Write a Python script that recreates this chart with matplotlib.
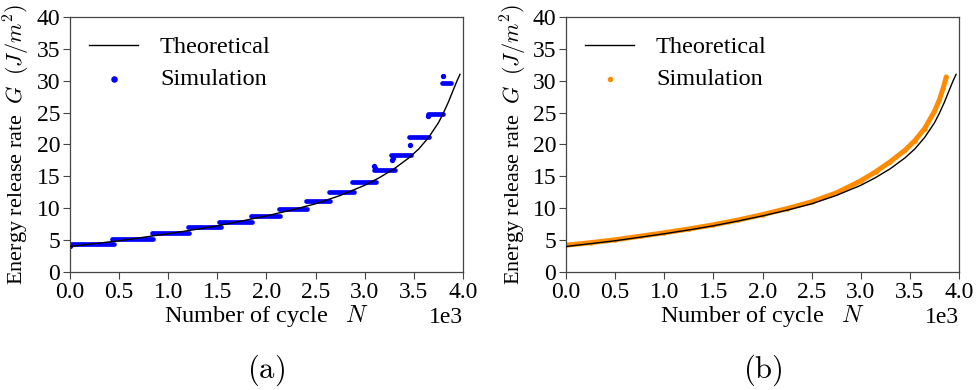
#!/usr/bin/env python3
# -*- coding: UTF-8 -*-

"""
能量释放率 G 随循环次数 N 的变化 (理论 vs 模拟)
"""

import matplotlib
matplotlib.use('agg')
from matplotlib import pyplot as plt

plt.rcParams['font.family'] = ['Liberation Serif', 'DejaVu Serif']
plt.rcParams['mathtext.fontset'] = 'cm'

# 理论曲线 (两个子图共用)
theory_n = [0, 250, 500, 750, 1000, 1250, 1500, 1750, 2000, 2250, 2500, 2750,
            3000, 3150, 3300, 3450, 3550, 3650, 3750, 3800, 3850, 3900,
            3940, 3970]
theory_g = [4.0, 4.45, 4.9, 5.45, 6.0, 6.6, 7.25, 8.0, 8.8, 9.7, 10.7, 12.0,
            13.6, 14.8, 16.2, 17.9, 19.3, 21.1, 23.4, 24.9, 26.6, 28.5,
            30.0, 31.0]

# (a) 模拟结果: 阶梯平台 (起点, 终点, 数值)
step_start = [0, 430, 830, 1200, 1520, 1840, 2130, 2400, 2640, 2870,
              3090, 3270, 3450, 3640, 3790]
step_end = [450, 850, 1210, 1540, 1850, 2140, 2410, 2650, 2890, 3110,
            3310, 3470, 3650, 3800, 3880]
step_level = [4.4, 5.2, 6.15, 7.0, 7.9, 8.85, 9.95, 11.2, 12.6, 14.15,
              16.0, 18.3, 21.2, 24.8, 29.7]
# 平台跳变处的零散点
jump_n = [0, 3095, 3100, 3280, 3285, 3460, 3640, 3800]
jump_g = [4.1, 16.6, 16.3, 17.5, 17.9, 19.9, 24.5, 30.7]

# (b) 模拟结果: 连续曲线
sim_n = [0, 250, 500, 750, 1000, 1250, 1500, 1750, 2000, 2250, 2500, 2750,
         3000, 3150, 3300, 3450, 3550, 3650, 3750, 3800, 3840, 3870]
sim_g = [4.2, 4.6, 5.05, 5.6, 6.15, 6.75, 7.4, 8.15, 9.0, 9.95, 11.0, 12.4,
         14.3, 15.7, 17.3, 19.1, 20.6, 22.5, 25.2, 27.0, 28.9, 30.6]

_fig = plt.figure(figsize=(9.8, 3.9), dpi=100)
_ax_a = _fig.add_axes([0.0714, 0.3026, 0.401, 0.6538])
_ax_b = _fig.add_axes([0.5776, 0.3026, 0.401, 0.6538])

# 子图 (a)
_ax_a.plot(theory_n, theory_g, color='black', lw=1.0, zorder=3, label='Theoretical')
_ax_a.hlines(step_level, step_start, step_end, colors='blue', lw=3.4,
             capstyle='round', zorder=2)
_ax_a.scatter(jump_n, jump_g, s=8, color='blue', zorder=2, label='Simulation')

# 子图 (b)
_ax_b.plot(sim_n, sim_g, color='darkorange', lw=3.6, solid_capstyle='round', zorder=2)
_ax_b.plot(theory_n, theory_g, color='black', lw=1.0, zorder=3, label='Theoretical')
_ax_b.scatter(sim_n, sim_g, s=5, color='darkorange', zorder=2, label='Simulation')

for _ax, _tag in ((_ax_a, '(a)'), (_ax_b, '(b)')):
    _ax.set_xlim(0, 4000)
    _ax.set_ylim(0, 40)
    _ax.set_xticks([0, 500, 1000, 1500, 2000, 2500, 3000, 3500, 4000])
    _ax.set_yticks(range(0, 41, 5))
    _ax.ticklabel_format(axis='x', style='sci', scilimits=(0, 0))
    _ax.xaxis.get_offset_text().set_fontsize(17)
    _ax.tick_params(labelsize=17, length=5, width=0.8, color='#444444', pad=2)
    for _sp in _ax.spines.values():
        _sp.set_color('#444444')
        _sp.set_linewidth(0.9)
    _ax.set_xlabel('Number of cycle   $N$', fontsize=17.5, labelpad=0)
    _ax.set_ylabel('Energy release rate  $G$  $(J/m^2)$', fontsize=16, labelpad=3)
    _ax.legend(loc='upper left', frameon=False, fontsize=17.5, handlelength=2.0,
               handletextpad=0.9, labelspacing=0.4, borderaxespad=0.4,
               markerscale=1.3)
    _pos = _ax.get_position()
    _fig.text((_pos.x0 + _pos.x1) / 2, 0.05, r'$\mathrm{' + _tag + '}$',
              ha='center', va='center', fontsize=22)

_fig.savefig('out.png', dpi=100)
